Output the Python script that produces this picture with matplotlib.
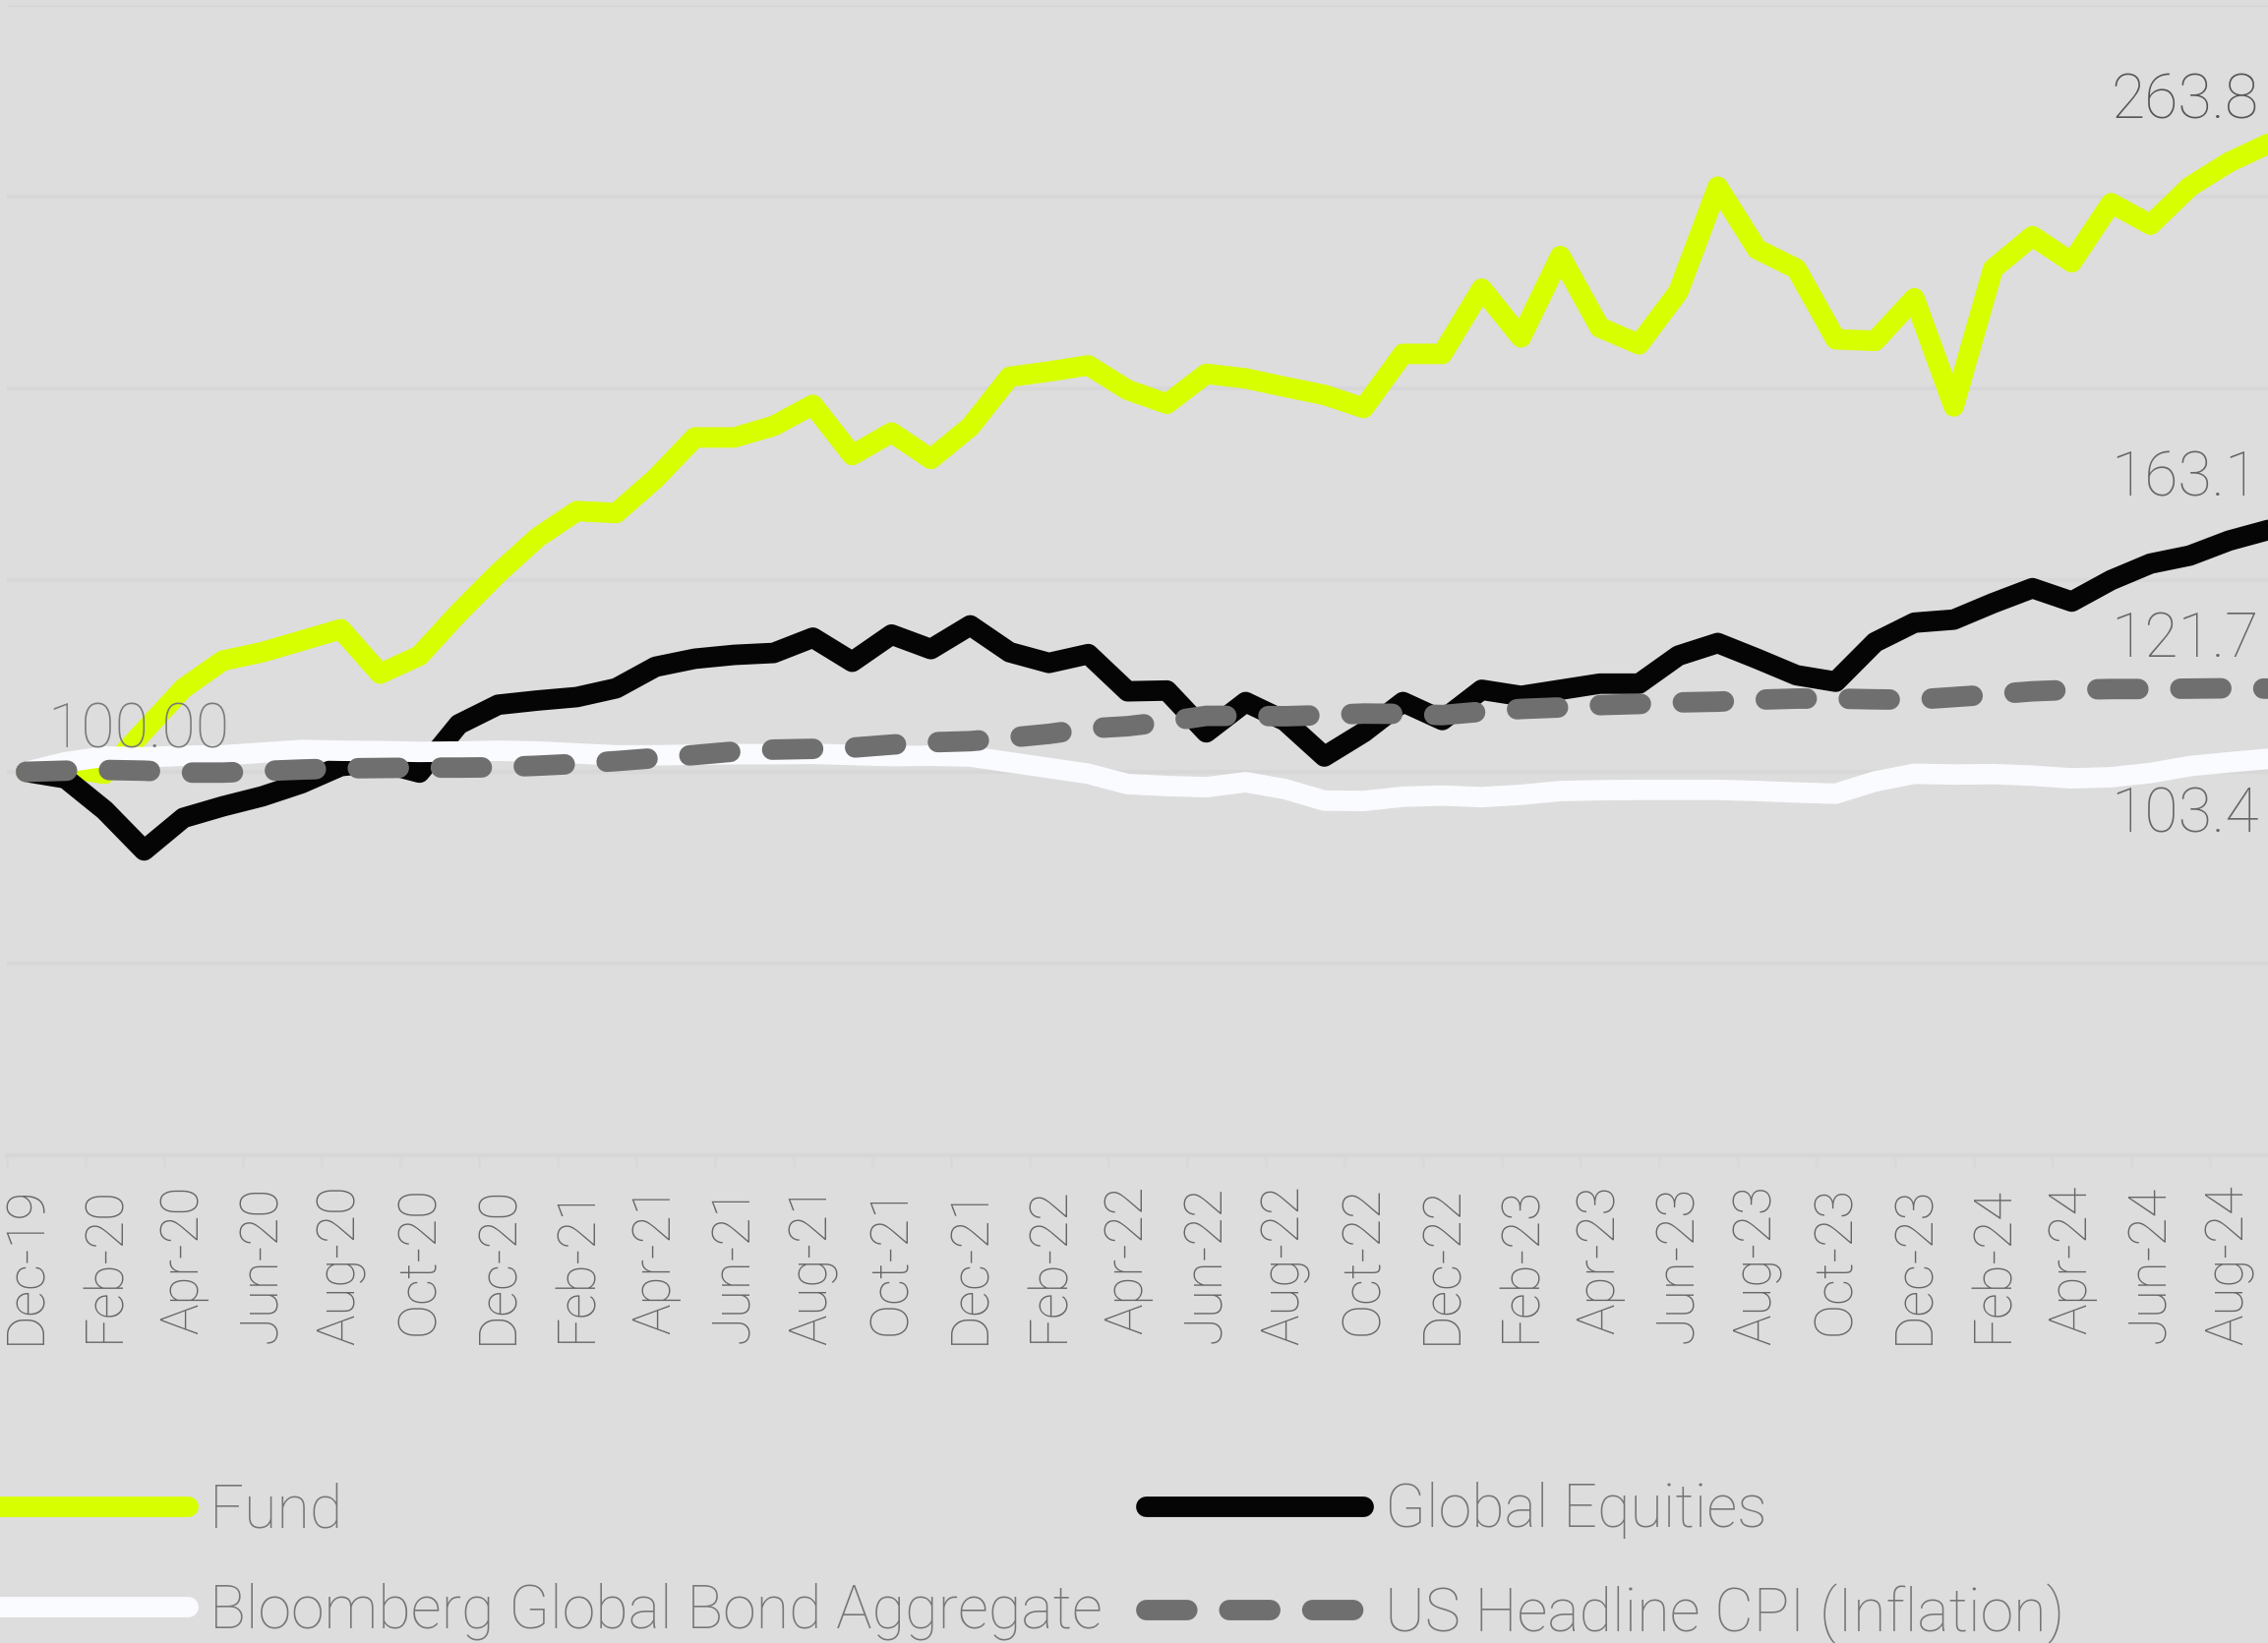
import matplotlib.pyplot as plt
import numpy as np
import pandas as pd

# month-end index values, Dec-19 = 100
months = pd.date_range("2019-12-01", "2024-09-01", freq="MS").strftime("%b-%y").tolist()

fund = [100.0, 101.0, 99.5, 110.7, 121.8, 129.0, 131.2, 134.2, 137.2, 125.6,
        130.3, 141.5, 151.8, 161.1, 168.0, 167.5, 176.5, 187.2, 187.2, 190.2,
        195.7, 182.6, 188.5, 181.6, 190.0, 203.0, 204.4, 206.0, 199.6, 196.0,
        203.8, 202.6, 200.4, 198.3, 194.9, 209.0, 209.0, 226.0, 213.3, 234.5,
        215.9, 211.5, 225.2, 252.6, 236.3, 231.2, 212.8, 212.4, 223.5, 195.3,
        231.2, 239.7, 232.9, 248.3, 242.7, 252.6, 259.0, 263.8]

equities = [100.0, 98.3, 90.0, 79.5, 88.0, 91.0, 93.6, 97.0, 101.5, 102.5,
            99.8, 112.4, 117.5, 118.6, 119.5, 121.8, 127.4, 129.5, 130.5, 131.0,
            135.0, 128.7, 135.8, 132.0, 138.2, 131.2, 128.4, 130.7, 121.0, 121.2,
            110.3, 118.2, 113.3, 104.0, 110.3, 118.2, 113.5, 121.4, 119.8, 121.4,
            123.0, 123.0, 130.3, 133.6, 129.5, 125.2, 123.5, 133.8, 138.9, 139.7,
            144.0, 147.9, 144.4, 150.0, 154.3, 156.4, 160.3, 163.1]

bonds = [100.0, 102.5, 104.0, 103.8, 104.2, 104.3, 105.0, 105.7, 105.5, 105.4,
         105.2, 105.3, 105.5, 105.3, 104.8, 104.3, 104.3, 104.5, 104.6, 104.6,
         104.7, 104.4, 104.1, 104.2, 104.0, 102.5, 101.0, 99.5, 96.8, 96.3,
         96.0, 97.3, 95.5, 92.5, 92.4, 93.5, 93.8, 93.4, 94.0, 95.0,
         95.2, 95.3, 95.3, 95.3, 95.0, 94.6, 94.3, 97.5, 99.5, 99.3,
         99.4, 99.0, 98.3, 98.6, 99.7, 101.5, 102.5, 103.4]

cpi = [100.0, 100.3, 100.5, 100.3, 99.8, 99.8, 100.2, 100.6, 100.9, 101.0,
       101.1, 101.1, 101.2, 101.6, 102.1, 102.8, 103.6, 104.4, 105.3, 105.8,
       106.0, 106.3, 107.1, 107.7, 108.0, 108.9, 109.9, 111.3, 111.9, 113.1,
       114.6, 114.6, 114.5, 114.8, 115.2, 115.1, 114.8, 115.7, 116.4, 116.8,
       117.4, 117.7, 118.1, 118.3, 118.8, 119.1, 119.1, 118.9, 118.8, 119.5,
       120.2, 121.0, 121.4, 121.6, 121.6, 121.7, 121.8, 121.7]

series_names = ["Fund", "Global Equities", "Bloomberg Global Bond Aggregate",
                "US Headline CPI (Inflation)"]

BG = "#DDDDDD"
plt.rcParams["font.family"] = ["Roboto", "DejaVu Sans"]

fig = plt.figure(figsize=(23.06, 16.71), dpi=100, facecolor=BG)
ax = fig.add_axes([0.00282, 0.29683, 1.00607, 0.70018])
ax.set_facecolor(BG)

x = np.arange(len(months))
lw = 15

l_fund, = ax.plot(x, fund, color="#D8FF00", lw=lw, zorder=2,
                  solid_joinstyle="round", solid_capstyle="round")
l_eq, = ax.plot(x, equities, color="#050505", lw=lw, zorder=3,
                solid_joinstyle="round", solid_capstyle="round")
l_bond, = ax.plot(x, bonds, color="#FAFBFF", lw=lw, zorder=4,
                  solid_joinstyle="round", solid_capstyle="round")
l_cpi, = ax.plot(x, cpi, color="#6F6F6F", lw=lw, zorder=5,
                 linestyle=(0, (2.0, 2.05)), dash_capstyle="round")

# axes / grid
ax.set_xlim(-0.5, len(months) - 0.5)
ax.set_ylim(0, 300)
ax.set_yticks(np.arange(0, 301, 50))
ax.yaxis.grid(True, color="#D7D7D7", lw=3)
ax.set_axisbelow(True)
ax.tick_params(axis="y", length=0, labelleft=False)
for s in ["top", "left", "right"]:
    ax.spines[s].set_visible(False)
ax.spines["bottom"].set_color("#D7D7D7")
ax.spines["bottom"].set_linewidth(3)

ax.set_xticks(x[::2])
ax.set_xticklabels(months[::2], rotation=90, fontsize=38, color="#666666",
                   fontweight="light")
ax.set_xticks(np.arange(-0.5, len(months), 2), minor=True)
ax.tick_params(axis="x", which="major", length=0, pad=22)
ax.tick_params(axis="x", which="minor", length=9, width=2, color="#D9D9D9")

# data labels
ax.text(0.54, 106.4, "100.00", ha="left", va="baseline", fontsize=45,
        color="#7A7A7A", fontweight="light", clip_on=False, zorder=6)
end_labels = [("263.8", fund[-1] + 6.6, "#555555"),
              ("163.1", equities[-1] + 8.7, "#666666"),
              ("121.7", cpi[-1] + 8.3, "#666666"),
              ("103.4", bonds[-1] - 19.2, "#666666")]
for txt, yv, c in end_labels:
    ax.text(56.75, yv, txt, ha="right", va="baseline", fontsize=45,
            color=c, fontweight="light", clip_on=False, zorder=6)

fig.legend([l_fund, l_bond, l_eq, l_cpi],
           [series_names[0], series_names[2], series_names[1], series_names[3]],
           ncol=2, loc="upper left", bbox_to_anchor=(-0.013, 0.098),
           frameon=False, borderpad=0, borderaxespad=0,
           handlelength=3.62, handletextpad=0.36, columnspacing=0.72,
           labelspacing=0.73, prop={"size": 44, "weight": "light"},
           labelcolor="#767676")

fig.savefig("out.png", dpi=100, facecolor=BG)
